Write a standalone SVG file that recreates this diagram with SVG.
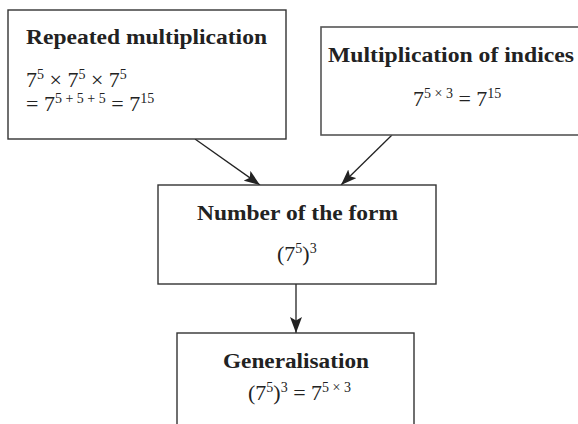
<svg xmlns="http://www.w3.org/2000/svg" width="578" height="424" viewBox="0 0 578 424">
<style>
.box{fill:#fff;stroke:#333;stroke-width:1.4}
.t{font-family:"Liberation Serif",serif;font-weight:bold;font-size:20px;fill:#222}
.m{font-family:"Liberation Serif",serif;font-size:22px;fill:#222}
.s{font-size:14px}
.c{stroke:#222;stroke-width:1.3;fill:none;marker-end:url(#ah)}
</style>
<defs>
<marker id="ah" viewBox="0 0 16 12" refX="16" refY="6" markerWidth="16" markerHeight="12" markerUnits="userSpaceOnUse" orient="auto">
<path d="M0,0 L16,6 L0,12 L3.5,6 Z" fill="#222"/>
</marker>
</defs>
<rect width="578" height="424" fill="#fff"/>
<g id="connectors">
<line class="c" x1="195" y1="139" x2="260" y2="185"/>
<line class="c" x1="392" y1="135" x2="341" y2="185"/>
<line class="c" x1="296" y1="284" x2="296" y2="333"/>
</g>
<g id="repeated">
<rect class="box" x="8" y="10" width="278" height="129"/>
<text class="t" x="26" y="44" textLength="241" lengthAdjust="spacingAndGlyphs">Repeated multiplication</text>
<text class="m" x="26" y="87">7<tspan class="s" dy="-8">5</tspan><tspan dy="8"> × 7</tspan><tspan class="s" dy="-8">5</tspan><tspan dy="8"> × 7</tspan><tspan class="s" dy="-8">5</tspan></text>
<text class="m" x="26" y="111">= 7<tspan class="s" dy="-8">5 + 5 + 5</tspan><tspan dy="8"> = 7</tspan><tspan class="s" dy="-8">15</tspan></text>
</g>
<g id="indices">
<rect class="box" x="321" y="27" width="270" height="108" style="stroke:#555;stroke-width:1.6"/>
<text class="t" x="328" y="62" textLength="246" lengthAdjust="spacingAndGlyphs">Multiplication of indices</text>
<text class="m" x="413" y="106">7<tspan class="s" dy="-8">5 × 3</tspan><tspan dy="8"> = 7</tspan><tspan class="s" dy="-8">15</tspan></text>
</g>
<g id="form">
<rect class="box" x="158" y="185" width="278" height="99"/>
<text class="t" x="197" y="220" textLength="201" lengthAdjust="spacingAndGlyphs">Number of the form</text>
<text class="m" x="277" y="261">(7<tspan class="s" dy="-8">5</tspan><tspan dy="8">)</tspan><tspan class="s" dy="-8">3</tspan></text>
</g>
<g id="general">
<rect class="box" x="177" y="333" width="237" height="100"/>
<text class="t" x="223" y="368" textLength="146" lengthAdjust="spacingAndGlyphs">Generalisation</text>
<text class="m" x="248" y="400">(7<tspan class="s" dy="-8">5</tspan><tspan dy="8">)</tspan><tspan class="s" dy="-8">3</tspan><tspan dy="8"> = 7</tspan><tspan class="s" dy="-8">5 × 3</tspan></text>
</g>
</svg>
